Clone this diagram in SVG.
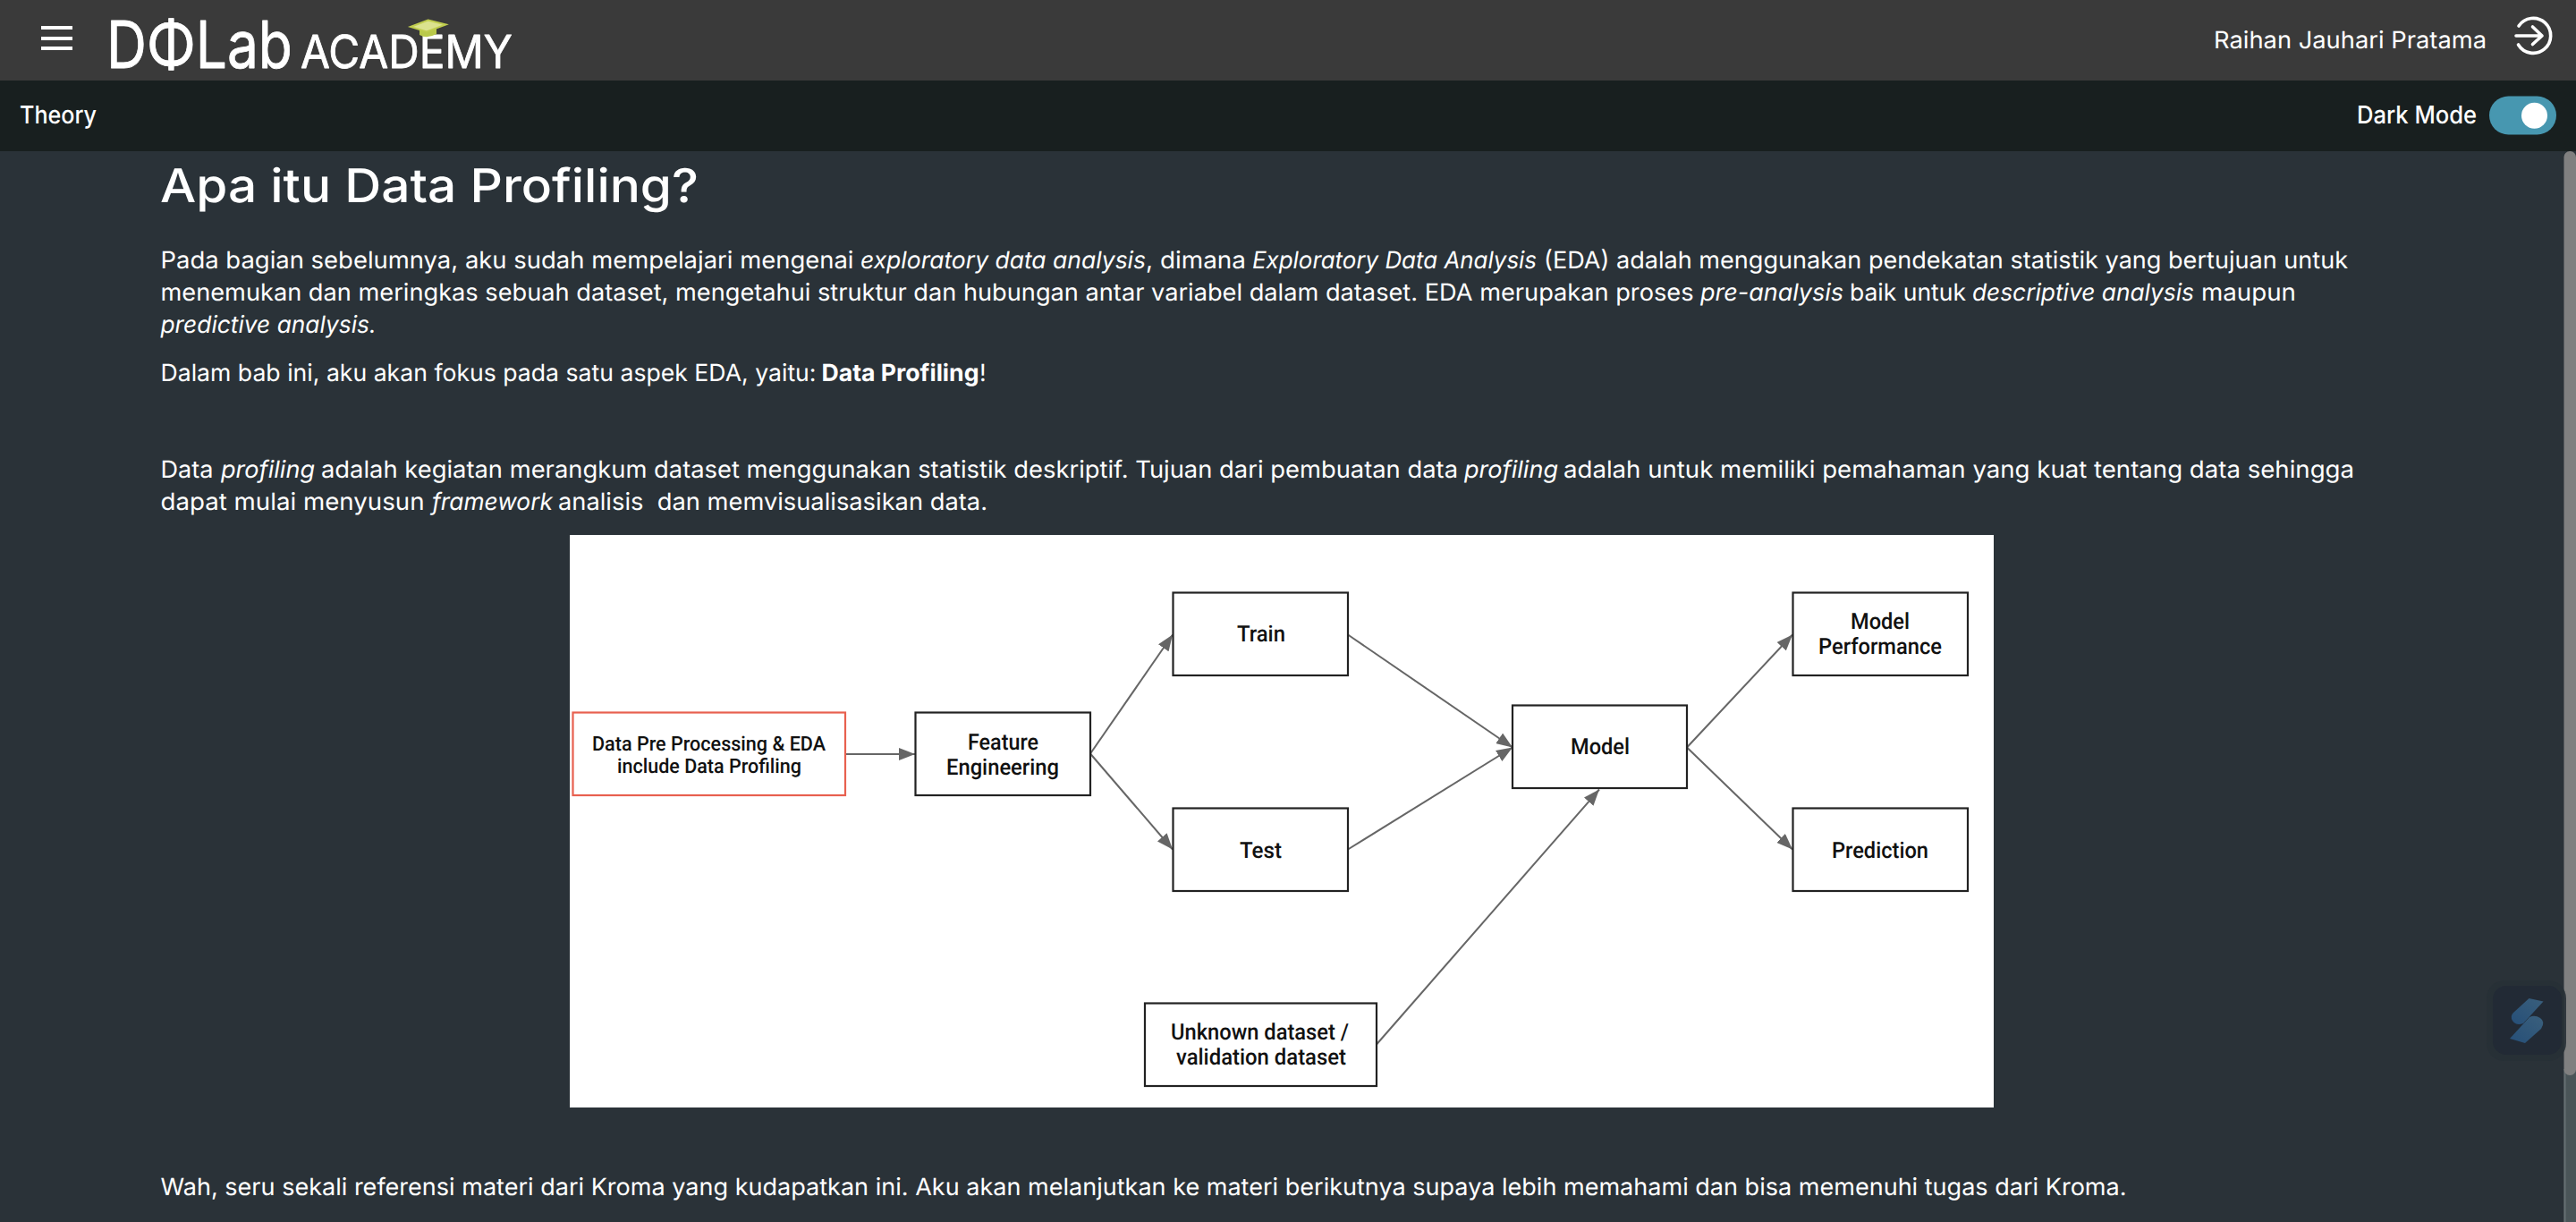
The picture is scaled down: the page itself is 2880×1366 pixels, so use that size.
<svg xmlns="http://www.w3.org/2000/svg" width="2880" height="1366" viewBox="0 0 2880 1366">
  <style>
    text { font-family: "Inter", "Noto Sans", "Liberation Sans", sans-serif; fill: #ffffff; text-rendering: geometricPrecision; white-space: pre; }
    .b { font-size: 26.5px; font-weight: 400; }
    .i { font-size: 26.5px; font-weight: 400; font-style: italic; }
    .s { font-size: 26.5px; font-weight: 700; }
    .h { font-size: 27.5px; font-weight: 500; }
    .t { font-size: 52px; font-weight: 550; }
    .logo { font-weight: 400; stroke: #ffffff; stroke-width: 0.8; stroke-linejoin: round; }
    .node rect { fill: #ffffff; stroke: #222222; stroke-width: 2.2; }
    .node text { font-family: "Roboto", "Liberation Sans", sans-serif; fill: #111111; font-weight: 500; font-size: 25px; }
    .node text.sm { font-size: 22.5px; }
    .conn line { stroke: #666666; stroke-width: 2; marker-end: url(#arrow); }
    .bar { stroke: #ffffff; stroke-width: 4; }
  </style>
  <defs>
    <marker id="arrow" markerUnits="userSpaceOnUse" markerWidth="18" markerHeight="14" refX="18" refY="7" orient="auto">
      <path d="M0,0 L18,7 L0,14 Z" fill="#666666"/>
    </marker>
    <linearGradient id="wg" x1="0" y1="1" x2="1" y2="0">
      <stop offset="0" stop-color="#264f78"/>
      <stop offset="1" stop-color="#3a5f7c"/>
    </linearGradient>
  </defs>

  <rect width="2880" height="1366" fill="#2a3238"/>
  <rect width="2880" height="90" fill="#3a3a3a"/>
  <rect y="90" width="2880" height="79" fill="#181f1f"/>

  <g id="header">
    <line class="bar" x1="46" y1="31" x2="81" y2="31"/>
    <line class="bar" x1="46" y1="43" x2="81" y2="43"/>
    <line class="bar" x1="46" y1="54" x2="81" y2="54"/>
    <text class="logo" transform="translate(119 75.5) scale(0.87 1)" font-size="73" textLength="239" lengthAdjust="spacingAndGlyphs">DΦLab</text>
    <text class="logo" x="336" y="75.5" font-size="51" textLength="237" lengthAdjust="spacingAndGlyphs">ACADEMY</text>
    <path d="M469 33 L469 39 Q477 44 488 38 L488 31 Z" fill="#b9c94a"/>
    <path d="M478.5 22.5 L498.5 27.5 L477 35.5 L459 30 Z" fill="#dbe28f" stroke="#c0cd4e" stroke-width="2"/>
    <text class="b" x="2475" y="53.5" textLength="305" lengthAdjust="spacingAndGlyphs">Raihan Jauhari Pratama</text>
    <path d="M2816 29 A19.5 19.5 0 1 1 2815.5 50 M2813 40 H2842 M2831.5 30 L2842 40 L2831.5 49.5" fill="none" stroke="#ffffff" stroke-width="3.6" stroke-linecap="round" stroke-linejoin="round"/>
    <text class="h" x="22" y="137.5" textLength="86" lengthAdjust="spacingAndGlyphs">Theory</text>
    <text class="h" x="2635" y="137.5" textLength="134" lengthAdjust="spacingAndGlyphs">Dark Mode</text>
    <rect x="2783" y="107.5" width="75" height="43" rx="21.5" fill="#4797b0"/>
    <circle cx="2833.5" cy="129.3" r="14.5" fill="#ffffff"/>
  </g>

  <g id="content">
    <text class="t" x="179" y="226" textLength="602" lengthAdjust="spacingAndGlyphs">Apa itu Data Profiling?</text>

    <text class="b" x="179.5" y="300" textLength="775" lengthAdjust="spacingAndGlyphs">Pada bagian sebelumnya, aku sudah mempelajari mengenai</text>
    <text class="i" x="962" y="300" textLength="319" lengthAdjust="spacingAndGlyphs">exploratory data analysis</text>
    <text class="b" x="1281" y="300" textLength="112" lengthAdjust="spacingAndGlyphs">, dimana</text>
    <text class="i" x="1400" y="300" textLength="318" lengthAdjust="spacingAndGlyphs">Exploratory Data Analysis</text>
    <text class="b" x="1726" y="300" textLength="899" lengthAdjust="spacingAndGlyphs">(EDA) adalah menggunakan pendekatan statistik yang bertujuan untuk</text>

    <text class="b" x="179.5" y="336" textLength="1714" lengthAdjust="spacingAndGlyphs">menemukan dan meringkas sebuah dataset, mengetahui struktur dan hubungan antar variabel dalam dataset. EDA merupakan proses</text>
    <text class="i" x="1901" y="336" textLength="160" lengthAdjust="spacingAndGlyphs">pre-analysis</text>
    <text class="b" x="2068" y="336" textLength="130" lengthAdjust="spacingAndGlyphs">baik untuk</text>
    <text class="i" x="2205" y="336" textLength="248" lengthAdjust="spacingAndGlyphs">descriptive analysis</text>
    <text class="b" x="2461" y="336" textLength="106" lengthAdjust="spacingAndGlyphs">maupun</text>

    <text class="i" x="179.5" y="372" textLength="241" lengthAdjust="spacingAndGlyphs">predictive analysis.</text>

    <text class="b" x="179.5" y="425.5" textLength="733" lengthAdjust="spacingAndGlyphs">Dalam bab ini, aku akan fokus pada satu aspek EDA, yaitu:</text>
    <text class="s" x="918.5" y="425.5" textLength="176" lengthAdjust="spacingAndGlyphs">Data Profiling</text>
    <text class="b" x="1095" y="425.5">!</text>

    <text class="b" x="179.5" y="534" textLength="59" lengthAdjust="spacingAndGlyphs">Data</text>
    <text class="i" x="247" y="534" textLength="105" lengthAdjust="spacingAndGlyphs">profiling</text>
    <text class="b" x="359" y="534" textLength="1271" lengthAdjust="spacingAndGlyphs">adalah kegiatan merangkum dataset menggunakan statistik deskriptif. Tujuan dari pembuatan data</text>
    <text class="i" x="1637" y="534" textLength="105" lengthAdjust="spacingAndGlyphs">profiling</text>
    <text class="b" x="1748" y="534" textLength="884" lengthAdjust="spacingAndGlyphs">adalah untuk memiliki pemahaman yang kuat tentang data sehingga</text>

    <text class="b" x="179.5" y="570" textLength="295" lengthAdjust="spacingAndGlyphs">dapat mulai menyusun</text>
    <text class="i" x="483" y="570" textLength="135" lengthAdjust="spacingAndGlyphs">framework</text>
    <text class="b" x="624" y="570" textLength="480" lengthAdjust="spacingAndGlyphs">analisis  dan memvisualisasikan data.</text>

    <text class="b" x="179.5" y="1336" textLength="2198" lengthAdjust="spacingAndGlyphs">Wah, seru sekali referensi materi dari Kroma yang kudapatkan ini. Aku akan melanjutkan ke materi berikutnya supaya lebih memahami dan bisa memenuhi tugas dari Kroma.</text>
  </g>

  <rect id="figure" x="637" y="598" width="1592" height="640" fill="#ffffff"/>

  <g id="connectors" class="conn">
    <line x1="945" y1="843" x2="1023" y2="843"/>
    <line x1="1219" y1="842.5" x2="1311" y2="709.5"/>
    <line x1="1219" y1="842.5" x2="1311" y2="949.5"/>
    <line x1="1507" y1="709.5" x2="1691" y2="835.5"/>
    <line x1="1507" y1="949.5" x2="1691" y2="835.5"/>
    <line x1="1539" y1="1167.5" x2="1788" y2="882.5"/>
    <line x1="1886" y1="835.5" x2="2004" y2="709.5"/>
    <line x1="1886" y1="835.5" x2="2004" y2="949.5"/>
  </g>

  <g id="node-preprocessing" class="node">
    <rect x="640.5" y="796.5" width="304.5" height="92.5" style="stroke:#e8604f"/>
    <text class="sm" x="662" y="838.5" textLength="261" lengthAdjust="spacingAndGlyphs">Data Pre Processing &amp; EDA</text>
    <text class="sm" x="690" y="863.5" textLength="206" lengthAdjust="spacingAndGlyphs">include Data Profiling</text>
  </g>
  <g id="node-feature" class="node">
    <rect x="1023.5" y="796.5" width="195.5" height="92.5"/>
    <text x="1082" y="838" textLength="79" lengthAdjust="spacingAndGlyphs">Feature</text>
    <text x="1058" y="865.5" textLength="126" lengthAdjust="spacingAndGlyphs">Engineering</text>
  </g>
  <g id="node-train" class="node">
    <rect x="1311.5" y="662.5" width="195.5" height="92.5"/>
    <text x="1383" y="717" textLength="54" lengthAdjust="spacingAndGlyphs">Train</text>
  </g>
  <g id="node-test" class="node">
    <rect x="1311.5" y="903.5" width="195.5" height="92.5"/>
    <text x="1386" y="959" textLength="47" lengthAdjust="spacingAndGlyphs">Test</text>
  </g>
  <g id="node-unknown" class="node">
    <rect x="1280" y="1121.5" width="259" height="92.5"/>
    <text x="1309" y="1162" textLength="199" lengthAdjust="spacingAndGlyphs">Unknown dataset /</text>
    <text x="1315" y="1190" textLength="190" lengthAdjust="spacingAndGlyphs">validation dataset</text>
  </g>
  <g id="node-model" class="node">
    <rect x="1691" y="788.5" width="195" height="92.5"/>
    <text x="1756" y="843" textLength="66" lengthAdjust="spacingAndGlyphs">Model</text>
  </g>
  <g id="node-performance" class="node">
    <rect x="2004.5" y="662.5" width="195.5" height="92.5"/>
    <text x="2069" y="703" textLength="66" lengthAdjust="spacingAndGlyphs">Model</text>
    <text x="2033" y="731" textLength="138" lengthAdjust="spacingAndGlyphs">Performance</text>
  </g>
  <g id="node-prediction" class="node">
    <rect x="2004.5" y="903.5" width="195.5" height="92.5"/>
    <text x="2048" y="959" textLength="108" lengthAdjust="spacingAndGlyphs">Prediction</text>
  </g>

  <g id="scrollbar">
    <rect x="2866.5" y="1195" width="13.5" height="171" fill="#4a5558"/>
    <rect x="2866.5" y="1195" width="2" height="171" fill="#667073"/>
    <rect x="2866.5" y="169" width="13.5" height="1033" rx="6.5" fill="#808080"/>
  </g>

  <g id="widget">
    <rect x="2780" y="1096" width="89" height="90" rx="20" fill="#273036" fill-opacity="0.9"/>
    <rect x="2787" y="1102" width="77" height="77" rx="15" fill="#222a35"/>
    <path d="M2827.5 1116 L2843.5 1119.5 L2821 1144 Q2813 1147 2809 1141 Q2806 1136 2810 1132 Z" fill="url(#wg)"/>
    <path d="M2806 1161 L2823 1166 L2841 1150 Q2846 1142 2840 1138 Q2834 1134 2828 1137 Z" fill="url(#wg)"/>
  </g>
</svg>
